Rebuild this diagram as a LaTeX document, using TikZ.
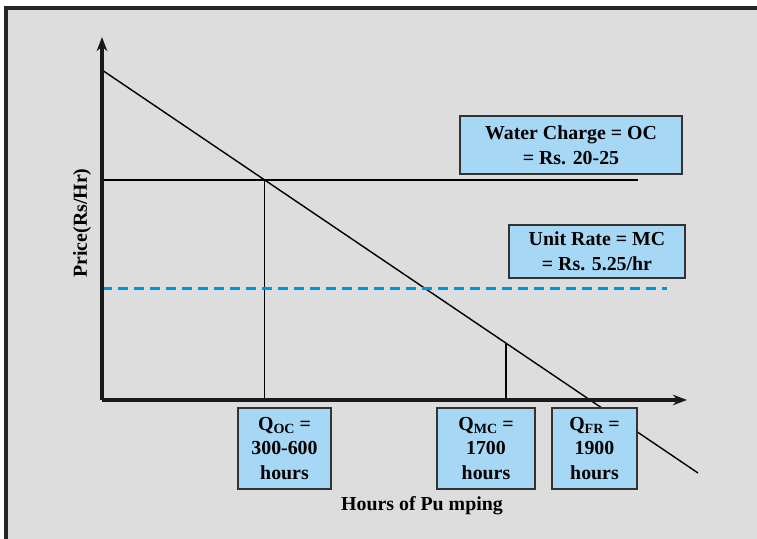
\documentclass[tikz,border=0pt]{standalone}
\usepackage{fontspec}
\setmainfont{Liberation Serif}
\usetikzlibrary{arrows.meta}
\definecolor{framegray}{RGB}{221,221,221}
\definecolor{boxblue}{RGB}{166,216,245}
\definecolor{mcblue}{RGB}{0,150,222}
\newcommand{\qsub}[1]{\raisebox{-0.3ex}{\footnotesize #1}}

\begin{document}
\begin{tikzpicture}[>={Stealth[length=8pt,width=6pt,inset=2.5pt]},
    font=\bfseries\fontsize{11.3}{14}\selectfont,
    infobox/.style={draw=black!80, line width=1pt, fill=boxblue, align=center, inner sep=0pt}]
    % Page and frame
    \useasboundingbox (-2.04,-2.78) rectangle (13.1,8.0);
    \clip (-2.04,-2.78) rectangle (13.1,8.0);
    \fill[white] (-2.04,-2.78) rectangle (13.1,8.0);
    \draw[fill=framegray, line width=2pt, draw=black!85] (-1.92,-3.2) rectangle (13.5,7.84);

    % Points on the demand line
    \coordinate (O) at (0,0);
    \coordinate (D1) at (0,6.6);
    \coordinate (D2) at (11.92,-1.46);
    \coordinate (QOC) at (3.25,0);
    \coordinate (POC) at (3.25,4.4);
    \coordinate (QMC) at (8.08,0);
    \coordinate (PMC) at (8.08,1.14);

    % Demand
    \draw[line width=0.8pt] (D1) -- (D2);

    % Water charge (OC) and unit rate (MC)
    \draw[line width=1pt] (0,4.4) -- (10.72,4.4);
    \draw[line width=1pt] (POC) -- (QOC);
    \draw[line width=1pt] (PMC) -- (QMC);
    \draw[mcblue, line width=1.7pt, dash pattern=on 0.2cm off 0.12cm] (0,2.22) -- (11.3,2.22);

    % Axes
    \draw[->, line width=2pt, black!90] (O) -- (0,7.26);
    \draw[->, line width=2pt, black!90] (O) -- (11.7,0);
    \node[rotate=90] (ylab) at (-0.4,3.54) {Price(Rs/Hr)};
    \node (xlab) at (6.4,-2.12) {Hours of Pu mping};

    % Boxes
    \node[infobox, minimum width=4.44cm, minimum height=1.16cm] (oc) at (9.38,5.1)
        {Water Charge = OC\\= Rs. 20-25};
    \node[infobox, minimum width=3.52cm, minimum height=1.06cm] (mc) at (9.9,2.97)
        {Unit Rate = MC\\= Rs. 5.25/hr};
    \node[infobox, minimum width=1.86cm, minimum height=1.62cm] (qoc) at (3.65,-0.97)
        {Q\qsub{OC} =\\300-600\\hours};
    \node[infobox, minimum width=1.96cm, minimum height=1.62cm] (qmc) at (7.68,-0.97)
        {Q\qsub{MC} =\\1700\\hours};
    \node[infobox, minimum width=1.7cm, minimum height=1.62cm] (qfr) at (9.85,-0.97)
        {Q\qsub{FR} =\\1900\\hours};
\end{tikzpicture}
\end{document}
